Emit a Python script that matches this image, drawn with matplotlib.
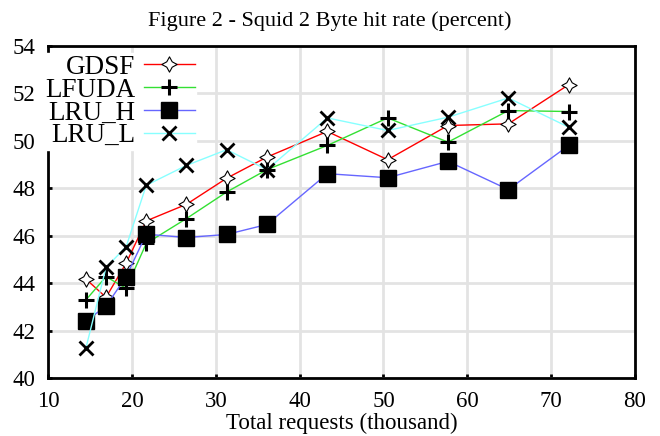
import matplotlib
matplotlib.use("Agg")
import numpy as np
import matplotlib.pyplot as plt
from matplotlib.path import Path

plt.rcParams["font.family"] = ["Liberation Serif", "DejaVu Serif"]

# x positions (thousand requests)
requests = [14.5, 16.9, 19.3, 21.7, 26.5, 31.3, 36.1, 43.3, 50.5, 57.7, 64.9, 72.1]

# byte hit rate (percent) per policy
gdsf = [44.17, 43.4, 44.84, 46.62, 47.32, 48.42, 49.31, 50.39, 49.2, 50.64, 50.71, 52.36]
lfuda = [43.29, 44.27, 43.78, 45.67, 46.72, 47.84, 48.78, 49.8, 50.96, 49.94, 51.27, 51.23]
lru_h = [42.4, 43.03, 44.27, 46.06, 45.92, 46.05, 46.47, 48.61, 48.44, 49.13, 47.94, 49.8]
lru_l = [41.26, 44.66, 45.53, 48.12, 48.96, 49.62, 48.78, 50.96, 50.43, 50.99, 51.8, 50.57]

# concave diamond marker
ang = np.arange(8) * np.pi / 4 + np.pi / 2
rad = np.where(np.arange(8) % 2 == 0, 1.0, 0.5)
verts = np.column_stack([rad * np.cos(ang), rad * np.sin(ang)])
diamond = Path(np.vstack([verts, verts[:1]]), closed=True)

fig = plt.figure(figsize=(6.6, 4.36), dpi=100)
ax = fig.add_axes([0.073, 0.133, 0.889, 0.762])

ax.plot(requests, gdsf, color="#ff0000", lw=1, marker=diamond, ms=11,
        mfc="white", mec="black", mew=0.8, label="GDSF")
ax.plot(requests, lfuda, color="#33e033", lw=1, marker="+", ms=12,
        mec="black", mew=2.2, label="LFUDA")
ax.plot(requests, lru_h, color="#6666ff", lw=1, marker="s", ms=11,
        mfc="black", mec="black", label="LRU_H")
ax.plot(requests, lru_l, color="#88ffff", lw=1, marker="x", ms=10,
        mec="black", mew=2, label="LRU_L")

ax.set_xlim(10, 80)
ax.set_ylim(40, 54)
ax.set_xticks(range(10, 81, 10))
ax.set_yticks(range(40, 55, 2))
ax.grid(True, color="#e3e3e3", lw=2)
ax.set_axisbelow(True)
for s in ax.spines.values():
    s.set_linewidth(2)
ax.tick_params(direction="in", length=3, width=2, labelsize=16.5, pad=9)

ax.set_xlabel("Total requests (thousand)", fontsize=16.5, labelpad=1)
fig.suptitle("Figure 2 - Squid 2 Byte hit rate (percent)", fontsize=16, y=0.975)

leg = ax.legend(loc="upper left", bbox_to_anchor=(-0.012, 0.985), markerfirst=False,
                fontsize=19.5, frameon=True, fancybox=False, framealpha=1,
                edgecolor="white", handlelength=1.9, borderpad=0.05,
                labelspacing=-0.08, handletextpad=0.3, borderaxespad=0.1)

fig.savefig("out.png", dpi=100)
